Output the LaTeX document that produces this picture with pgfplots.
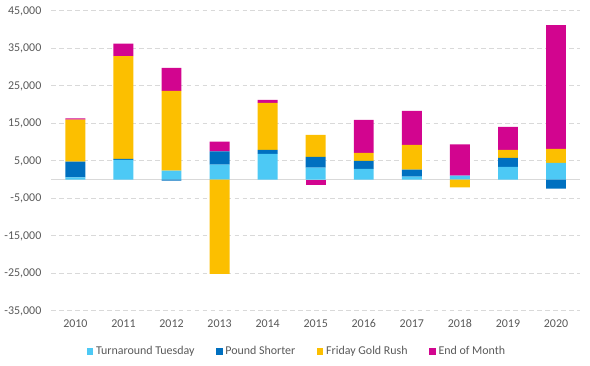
\documentclass[border=0pt]{standalone}
\usepackage{pgfplots}
\pgfplotsset{compat=1.18}
\usepackage{fontspec}
\setmainfont{Carlito}
\definecolor{tt}{RGB}{77,201,245}
\definecolor{ps}{RGB}{0,112,192}
\definecolor{fgr}{RGB}{252,191,0}
\definecolor{eom}{RGB}{210,5,143}
\definecolor{gridc}{RGB}{217,217,217}
\definecolor{txt}{RGB}{89,89,89}
\pgfplotsset{
  common/.style={
    at={(36.75pt,41pt)}, anchor=south west,
    scale only axis, width=398.25pt, height=226pt,
    xmin=-0.5, xmax=10.5, ymin=-35000, ymax=45000,
    ybar stacked, bar width=15pt,
  }
}
\begin{document}
\begin{tikzpicture}
\path (0,0) rectangle (442.5pt,275.25pt);
\begin{axis}[common,
  axis line style={draw=none},
  major tick length=0pt,
  xtick={0,...,10},
  xticklabels={2010,2011,2012,2013,2014,2015,2016,2017,2018,2019,2020},
  ytick={-35000,-25000,...,45000},
  scaled y ticks=false,
  ymajorgrids,
  grid style={gridc, line width=0.75pt, dash pattern=on 3.5pt off 2.5pt},
  extra y ticks={0},
  extra y tick labels={},
  extra y tick style={grid style={gridc, line width=1pt, solid}},
  tick label style={font=\fontsize{9}{11}\selectfont, text=txt},
  yticklabel style={xshift=-4pt, /pgf/number format/fixed},
  xticklabel style={yshift=-3pt},
  /pgf/number format/assume math mode=true,
  /pgf/number format/.cd, 1000 sep={,}, /pgfplots/.cd,
  legend columns=4,
  legend style={draw=none, fill=none, at={(0.465,-0.135)}, anchor=center,
    font=\fontsize{9}{11}\selectfont, text=txt,
    /tikz/every even column/.append style={column sep=14pt}},
  legend image code/.code={\fill[#1] (0pt,-2.6pt) rectangle (5.2pt,2.6pt);},
]
\addplot[fill=tt, draw=none] coordinates {(0,600) (1,5300) (2,2400) (3,4000) (4,6900) (5,3200) (6,2900) (7,800) (8,1100) (9,3450) (10,4500)};
\addlegendentry{Turnaround Tuesday}
\addplot[fill=ps, draw=none] coordinates {(0,4200) (1,270) (2,0) (3,3550) (4,1070) (5,2900) (6,2130) (7,1860) (8,0) (9,2400) (10,0)};
\addlegendentry{Pound Shorter}
\addplot[fill=fgr, draw=none] coordinates {(0,11200) (1,27400) (2,21300) (3,0) (4,12500) (5,5860) (6,2130) (7,6660) (8,0) (9,2130) (10,3730)};
\addlegendentry{Friday Gold Rush}
\addplot[fill=eom, draw=none] coordinates {(0,350) (1,3300) (2,6100) (3,2600) (4,800) (5,0) (6,8780) (7,9050) (8,8300) (9,6120) (10,33000)};
\addlegendentry{End of Month}
\end{axis}
\begin{axis}[common, hide axis]
\addplot[fill=ps, draw=none] coordinates {(0,0) (1,0) (2,-250) (3,0) (4,0) (5,0) (6,0) (7,0) (8,0) (9,0) (10,-2400)};
\addplot[fill=fgr, draw=none] coordinates {(0,0) (1,0) (2,0) (3,-25100) (4,0) (5,0) (6,0) (7,0) (8,-2050) (9,0) (10,0)};
\addplot[fill=eom, draw=none] coordinates {(0,0) (1,0) (2,0) (3,0) (4,0) (5,-1330) (6,0) (7,0) (8,0) (9,0) (10,0)};
\end{axis}
\end{tikzpicture}
\end{document}
